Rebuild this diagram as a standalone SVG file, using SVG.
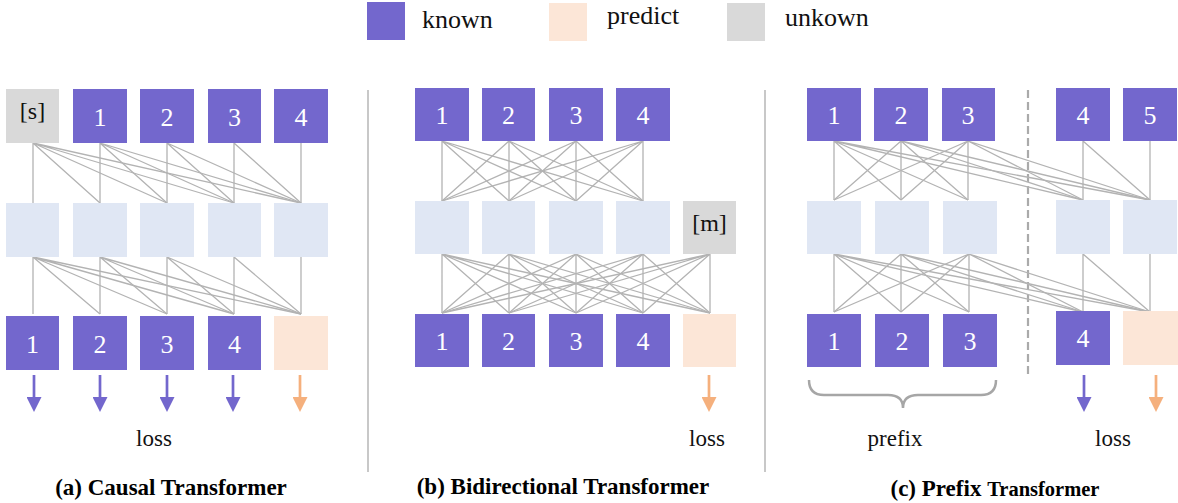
<svg xmlns="http://www.w3.org/2000/svg" width="1178" height="503" viewBox="0 0 1178 503">
<style>
text{font-family:"Liberation Serif","Times New Roman",serif}
.known{fill:#7367CD}
.pred{fill:#FCE6D7}
.unk{fill:#D9D9D9}
.hid{fill:#E0E7F4}
.num{fill:#fff;font-size:26px;text-anchor:middle}
.tok{fill:#111;font-size:24px;text-anchor:middle}
.lbl{fill:#111;font-size:23px;text-anchor:middle}
.leg{fill:#111;font-size:26px}
.cap{fill:#000;font-size:23px;font-weight:bold;text-anchor:middle}
.conn path{fill:none;stroke:#B3B3B3;stroke-width:1.3}
.sep{stroke:#C8C8C8;stroke-width:2}
.dash{stroke:#AAAAAA;stroke-width:2.2;stroke-dasharray:8 4}
.brace{fill:none;stroke:#A6A6A6;stroke-width:2.5}
.ap{stroke:#7367CD;stroke-width:2.7;marker-end:url(#hp)}
.ao{stroke:#F5B07D;stroke-width:2.7;marker-end:url(#ho)}
</style>
<defs>
<marker id="hp" viewBox="0 0 15 15" refX="0" refY="7.5" markerWidth="15" markerHeight="15" markerUnits="userSpaceOnUse" orient="auto"><path d="M0,0L15,7.5L0,15z" fill="#7367CD"/></marker>
<marker id="ho" viewBox="0 0 15 15" refX="0" refY="7.5" markerWidth="15" markerHeight="15" markerUnits="userSpaceOnUse" orient="auto"><path d="M0,0L15,7.5L0,15z" fill="#F5B07D"/></marker>
</defs>
<rect width="1178" height="503" fill="#fff"/>

<g id="legend">
<rect class="known" x="367" y="2" width="38" height="38"/>
<text class="leg" x="422" y="28">known</text>
<rect class="pred" x="549" y="3" width="38" height="38"/>
<text class="leg" x="607" y="24">predict</text>
<rect class="unk" x="727" y="3" width="38" height="38"/>
<text class="leg" x="785" y="26">unkown</text>
</g>

<g id="separators">
<line class="sep" x1="368" y1="90" x2="368" y2="472"/>
<line class="sep" x1="765" y1="90" x2="765" y2="472"/>
<line class="dash" x1="1028" y1="90" x2="1028" y2="376"/>
</g>

<g class="conn" id="connectors">
<path d="M33,143L33,203M33,143L100,203M33,143L167,203M33,143L234,203M33,143L301,203"/>
<path d="M100,143L100,203M100,143L167,203M100,143L234,203M100,143L301,203"/>
<path d="M167,143L167,203M167,143L234,203M167,143L301,203"/>
<path d="M234,143L234,203M234,143L301,203"/>
<path d="M301,143L301,203"/>
<path d="M33,257L33,314M33,257L100,314M33,257L167,314M33,257L234,314M33,257L301,314"/>
<path d="M100,257L100,314M100,257L167,314M100,257L234,314M100,257L301,314"/>
<path d="M167,257L167,314M167,257L234,314M167,257L301,314"/>
<path d="M234,257L234,314M234,257L301,314"/>
<path d="M301,257L301,314"/>
<path d="M442,141L442,201M442,141L509,201M442,141L576,201M442,141L643,201"/>
<path d="M509,141L442,201M509,141L509,201M509,141L576,201M509,141L643,201"/>
<path d="M576,141L442,201M576,141L509,201M576,141L576,201M576,141L643,201"/>
<path d="M643,141L442,201M643,141L509,201M643,141L576,201M643,141L643,201"/>
<path d="M442,254L442,313M442,254L509,313M442,254L576,313M442,254L643,313M442,254L710,313"/>
<path d="M509,254L442,313M509,254L509,313M509,254L576,313M509,254L643,313M509,254L710,313"/>
<path d="M576,254L442,313M576,254L509,313M576,254L576,313M576,254L643,313M576,254L710,313"/>
<path d="M643,254L442,313M643,254L509,313M643,254L576,313M643,254L643,313M643,254L710,313"/>
<path d="M710,254L442,313M710,254L509,313M710,254L576,313M710,254L643,313M710,254L710,313"/>
<path d="M834,141L834,200M834,141L901,200M834,141L968,200M834,141L1083,200M834,141L1150,200"/>
<path d="M901,141L834,200M901,141L901,200M901,141L968,200M901,141L1083,200M901,141L1150,200"/>
<path d="M968,141L834,200M968,141L901,200M968,141L968,200M968,141L1083,200M968,141L1150,200"/>
<path d="M1083,141L1083,200M1083,141L1150,200"/>
<path d="M1150,141L1150,200"/>
<path d="M834,254L834,312M834,254L901,312M834,254L969,312M834,254L1083,312M834,254L1150,312"/>
<path d="M901,254L834,312M901,254L901,312M901,254L969,312M901,254L1083,312M901,254L1150,312"/>
<path d="M969,254L834,312M969,254L901,312M969,254L969,312M969,254L1083,312M969,254L1150,312"/>
<path d="M1083,254L1083,312M1083,254L1150,312"/>
<path d="M1150,254L1150,312"/>
</g>

<g id="a-in-s"><rect class="unk" x="6" y="89" width="53" height="54"/><text class="tok" x="32.5" y="119">[s]</text></g>
<g id="a-in-1"><rect class="known" x="73" y="89" width="54" height="54"/><text class="num" x="100" y="126">1</text></g>
<g id="a-in-2"><rect class="known" x="140" y="89" width="54" height="54"/><text class="num" x="167" y="126">2</text></g>
<g id="a-in-3"><rect class="known" x="208" y="89" width="53" height="54"/><text class="num" x="234.5" y="126">3</text></g>
<g id="a-in-4"><rect class="known" x="274" y="89" width="54" height="54"/><text class="num" x="301" y="126">4</text></g>
<g id="a-h-0"><rect class="hid" x="6" y="203" width="53" height="54"/></g>
<g id="a-h-1"><rect class="hid" x="73" y="203" width="54" height="54"/></g>
<g id="a-h-2"><rect class="hid" x="140" y="203" width="54" height="54"/></g>
<g id="a-h-3"><rect class="hid" x="208" y="203" width="53" height="54"/></g>
<g id="a-h-4"><rect class="hid" x="274" y="203" width="54" height="54"/></g>
<g id="a-out-1"><rect class="known" x="6" y="316" width="53" height="54"/><text class="num" x="32.5" y="353">1</text></g>
<g id="a-out-2"><rect class="known" x="73" y="316" width="54" height="54"/><text class="num" x="100" y="353">2</text></g>
<g id="a-out-3"><rect class="known" x="140" y="316" width="54" height="54"/><text class="num" x="167" y="353">3</text></g>
<g id="a-out-4"><rect class="known" x="208" y="316" width="53" height="54"/><text class="num" x="234.5" y="353">4</text></g>
<g id="a-out-5"><rect class="pred" x="274" y="316" width="54" height="54"/></g>
<g id="a-arrows">
<line class="ap" x1="34" y1="375" x2="34" y2="397"/>
<line class="ap" x1="100" y1="375" x2="100" y2="397"/>
<line class="ap" x1="167" y1="375" x2="167" y2="397"/>
<line class="ap" x1="233" y1="375" x2="233" y2="397"/>
<line class="ao" x1="300" y1="375" x2="300" y2="397"/>
</g>
<text class="lbl" x="154" y="446">loss</text>
<text class="cap" x="171" y="495">(a) Causal Transformer</text>

<g id="b-in-1"><rect class="known" x="415" y="88" width="54" height="53"/><text class="num" x="442" y="124">1</text></g>
<g id="b-in-2"><rect class="known" x="482" y="88" width="53" height="53"/><text class="num" x="508.5" y="124">2</text></g>
<g id="b-in-3"><rect class="known" x="549" y="88" width="54" height="53"/><text class="num" x="576" y="124">3</text></g>
<g id="b-in-4"><rect class="known" x="616" y="88" width="54" height="53"/><text class="num" x="643" y="124">4</text></g>
<g id="b-h-1"><rect class="hid" x="415" y="201" width="54" height="53"/></g>
<g id="b-h-2"><rect class="hid" x="482" y="201" width="53" height="53"/></g>
<g id="b-h-3"><rect class="hid" x="549" y="201" width="54" height="53"/></g>
<g id="b-h-4"><rect class="hid" x="616" y="201" width="54" height="53"/></g>
<g id="b-h-m"><rect class="unk" x="683" y="201" width="53" height="53"/><text class="tok" x="709.5" y="231">[m]</text></g>
<g id="b-out-1"><rect class="known" x="415" y="314" width="54" height="53"/><text class="num" x="442" y="350">1</text></g>
<g id="b-out-2"><rect class="known" x="482" y="314" width="53" height="53"/><text class="num" x="508.5" y="350">2</text></g>
<g id="b-out-3"><rect class="known" x="549" y="314" width="54" height="53"/><text class="num" x="576" y="350">3</text></g>
<g id="b-out-4"><rect class="known" x="616" y="314" width="54" height="53"/><text class="num" x="643" y="350">4</text></g>
<g id="b-out-5"><rect class="pred" x="683" y="314" width="53" height="53"/></g>
<line class="ao" x1="709" y1="375" x2="709" y2="397"/>
<text class="lbl" x="707" y="446">loss</text>
<text class="cap" x="563" y="494">(b) Bidirectional Transformer</text>

<g id="c-in-1"><rect class="known" x="807" y="88" width="54" height="53"/><text class="num" x="834" y="124">1</text></g>
<g id="c-in-2"><rect class="known" x="874" y="88" width="54" height="53"/><text class="num" x="901" y="124">2</text></g>
<g id="c-in-3"><rect class="known" x="942" y="88" width="53" height="53"/><text class="num" x="968" y="124">3</text></g>
<g id="c-in-4"><rect class="known" x="1056" y="88" width="54" height="53"/><text class="num" x="1083" y="124">4</text></g>
<g id="c-in-5"><rect class="known" x="1123" y="88" width="54" height="53"/><text class="num" x="1150" y="124">5</text></g>
<g id="c-h-1"><rect class="hid" x="807" y="201" width="54" height="53"/></g>
<g id="c-h-2"><rect class="hid" x="875" y="201" width="54" height="53"/></g>
<g id="c-h-3"><rect class="hid" x="943" y="201" width="54" height="53"/></g>
<g id="c-h-4"><rect class="hid" x="1056" y="200" width="54" height="54"/></g>
<g id="c-h-5"><rect class="hid" x="1123" y="200" width="54" height="54"/></g>
<g id="c-out-1"><rect class="known" x="807" y="314" width="54" height="53"/><text class="num" x="834" y="350">1</text></g>
<g id="c-out-2"><rect class="known" x="875" y="314" width="54" height="53"/><text class="num" x="902" y="350">2</text></g>
<g id="c-out-3"><rect class="known" x="943" y="314" width="54" height="53"/><text class="num" x="970" y="350">3</text></g>
<g id="c-out-4"><rect class="known" x="1056" y="311" width="54" height="54"/><text class="num" x="1083" y="347">4</text></g>
<g id="c-out-5"><rect class="pred" x="1123" y="311" width="55" height="54"/></g>
<path class="brace" d="M809,380Q809,395 824,395L888,395Q903,395 903,408Q903,395 918,395L981,395Q996,395 996,380"/>
<line class="ap" x1="1084" y1="375" x2="1084" y2="397"/>
<line class="ao" x1="1156" y1="375" x2="1156" y2="397"/>
<text class="lbl" x="895" y="446">prefix</text>
<text class="lbl" x="1113" y="446">loss</text>
<text class="cap" x="995" y="496">(c) Prefix <tspan style="font-size:20.5px">Transformer</tspan></text>
</svg>
